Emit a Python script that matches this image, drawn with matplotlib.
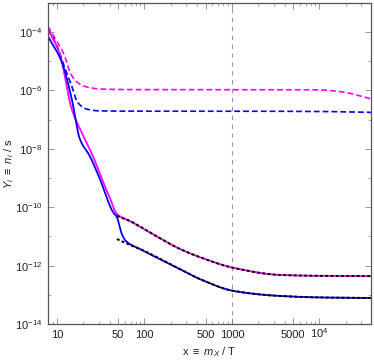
import numpy as np
import matplotlib
matplotlib.use('Agg')
import matplotlib.pyplot as plt
from matplotlib.ticker import FixedLocator, NullFormatter

plt.rcParams['font.family'] = ['Liberation Sans', 'DejaVu Sans']
plt.rcParams['mathtext.fontset'] = 'custom'
plt.rcParams['mathtext.rm'] = 'Liberation Sans'
plt.rcParams['mathtext.it'] = 'Liberation Sans:italic'

# ── DATA (log10 of Y) ─────────────────────────────────────
mag_dash_x = [7.9, 10, 12.3, 14.1, 16.9, 22, 31, 60, 300, 3000, 1.0e4, 1.4e4, 2.0e4, 2.7e4, 3.9e4]
mag_dash_y = [-3.80, -4.31, -4.82, -5.37, -5.71, -5.88, -5.95, -5.97, -5.97, -5.97, -5.98, -6.01, -6.07, -6.16, -6.29]

blu_dash_x = [7.9, 8.3, 10.4, 12.1, 14.8, 17.2, 22, 31, 100, 1000, 1.0e4, 3.9e4]
blu_dash_y = [-3.90, -4.00, -4.58, -5.16, -5.85, -6.40, -6.64, -6.70, -6.71, -6.71, -6.72, -6.75]

mag_sol_x = [7.9, 10.8, 14.8, 20.9, 25.8, 32.7, 40, 48.5, 68.2, 115, 255, 430, 1054, 3550, 1.0e4, 3.9e4]
mag_sol_y = [-3.90, -4.75, -6.64, -7.66, -8.25, -9.03, -9.65, -10.23, -10.47, -10.86, -11.43, -11.71, -12.08, -12.32, -12.35, -12.36]

blu_sol_x = [7.9, 11.4, 14.8, 18.3, 23.8, 31, 43.7, 48.5, 55.3, 61.5, 88.9, 255, 430, 1054, 3550, 1.0e4, 3.9e4]
blu_sol_y = [-4.14, -5.03, -6.29, -7.66, -8.25, -9.03, -10.16, -10.34, -10.92, -11.16, -11.43, -12.12, -12.46, -12.87, -13.04, -13.09, -13.11]

fit_hi_x = [48.5, 68.2, 115, 255, 430, 1054, 3550, 1.0e4, 3.9e4]
fit_hi_y = [-10.30, -10.47, -10.86, -11.43, -11.71, -12.08, -12.32, -12.35, -12.36]

fit_lo_x = [48.5, 68, 88.9, 255, 430, 1054, 3550, 1.0e4, 3.9e4]
fit_lo_y = [-11.09, -11.29, -11.43, -12.12, -12.46, -12.87, -13.04, -13.09, -13.11]

x_freeze = 1000

xticks = [10, 50, 100, 500, 1000, 5000, 1e4]
xtick_labels = ['10', '50', '100', '500', '1000', '5000', r'$10^4$']
yticks = [1e-4, 1e-6, 1e-8, 1e-10, 1e-12, 1e-14]
ytick_labels = [r'$10^{-4}$', r'$10^{-6}$', r'$10^{-8}$', r'$10^{-10}$', r'$10^{-12}$', r'$10^{-14}$']


def pchip(xk, yk, xq):
    # monotone cubic hermite, numpy only
    h = np.diff(xk)
    d = np.diff(yk) / h
    m = np.zeros_like(yk)
    for i in range(1, len(xk) - 1):
        if d[i - 1] * d[i] > 0:
            w1 = 2 * h[i] + h[i - 1]
            w2 = h[i] + 2 * h[i - 1]
            m[i] = (w1 + w2) / (w1 / d[i - 1] + w2 / d[i])
    m[0], m[-1] = d[0], d[-1]
    idx = np.clip(np.searchsorted(xk, xq) - 1, 0, len(xk) - 2)
    t = (xq - xk[idx]) / h[idx]
    h00 = 2 * t**3 - 3 * t**2 + 1
    h10 = t**3 - 2 * t**2 + t
    h01 = -2 * t**3 + 3 * t**2
    h11 = t**3 - t**2
    return h00 * yk[idx] + h10 * h[idx] * m[idx] + h01 * yk[idx + 1] + h11 * h[idx] * m[idx + 1]


def smooth(xs, ys, n=500):
    lx = np.log10(np.array(xs, float))
    ly = np.array(ys, float)
    grid = np.linspace(lx[0], lx[-1], n)
    return 10 ** grid, 10 ** pchip(lx, ly, grid)


MAG = '#ff00ff'
BLU = '#0000ff'
TXT = '#222222'

fig = plt.figure(figsize=(3.74, 3.6), dpi=100)
ax = fig.add_axes([0.128, 0.1, 0.864, 0.892])

ax.axvline(x_freeze, color='#999999', lw=0.8, dashes=(4, 4), zorder=1)

x, y = smooth(mag_dash_x, mag_dash_y)
ax.plot(x, y, color=MAG, lw=1.2, dashes=(3.5, 1.8))
x, y = smooth(blu_dash_x, blu_dash_y)
ax.plot(x, y, color=BLU, lw=1.2, dashes=(3.5, 1.8))
x, y = smooth(mag_sol_x, mag_sol_y)
ax.plot(x, y, color=MAG, lw=1.3)
x, y = smooth(blu_sol_x, blu_sol_y)
ax.plot(x, y, color=BLU, lw=1.3)
x, y = smooth(fit_hi_x, fit_hi_y)
ax.plot(x, y, color='black', lw=1.4, dashes=(1.5, 1.2))
x, y = smooth(fit_lo_x, fit_lo_y)
ax.plot(x, y, color='black', lw=1.4, dashes=(1.5, 1.2))

ax.set_xscale('log')
ax.set_yscale('log')
ax.set_xlim(7.9, 3.88e4)
ax.set_ylim(1e-14, 1e-3)

ax.xaxis.set_major_locator(FixedLocator(xticks))
ax.set_xticklabels(xtick_labels)
minor_x = [m * 10 ** e for e in range(0, 5) for m in range(2, 10)]
minor_x = [v for v in minor_x if v not in xticks]
ax.xaxis.set_minor_locator(FixedLocator(minor_x))
ax.xaxis.set_minor_formatter(NullFormatter())

ax.yaxis.set_major_locator(FixedLocator(yticks))
ax.set_yticklabels(ytick_labels)
ax.yaxis.set_minor_locator(FixedLocator([1e-5, 1e-7, 1e-9, 1e-11, 1e-13]))
ax.yaxis.set_minor_formatter(NullFormatter())

ax.tick_params(which='both', direction='in', top=True, right=True,
               color='#888888', labelsize=8, labelcolor=TXT)
ax.tick_params(which='major', length=4, width=0.6)
ax.tick_params(which='minor', length=2.5, width=0.5)
ax.tick_params(axis='x', pad=10)
ax.tick_params(axis='y', pad=4)
for lbl in ax.get_xticklabels():
    lbl.set_verticalalignment('baseline')

for s in ax.spines.values():
    s.set_color('#555555')
    s.set_linewidth(0.9)

fig.text(209.5 / 374, 1 - 355 / 360, r'x $\equiv$ $m_X$ / T', fontsize=8,
         color=TXT, ha='center', va='baseline')
fig.text(12 / 374, 1 - 164 / 360, r'$Y_i$ $\equiv$ $n_i$ / s', fontsize=8,
         color=TXT, ha='center', va='baseline', rotation=90, rotation_mode='anchor')

plt.savefig('out.png', dpi=100, facecolor='white')
